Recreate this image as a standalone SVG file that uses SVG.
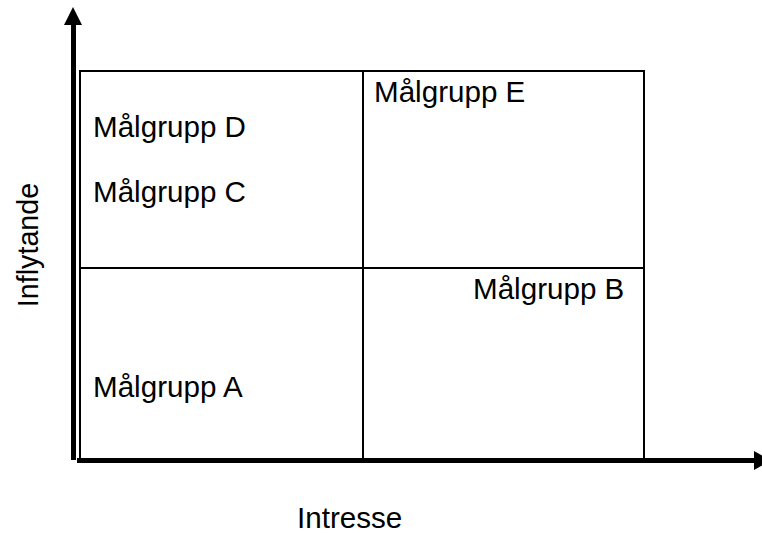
<svg xmlns="http://www.w3.org/2000/svg" width="762" height="533" viewBox="0 0 762 533">
<style>
.t{font-family:"Liberation Sans",Arial,sans-serif;font-size:29.6px;fill:#000}
.grid{fill:none;stroke:#000;stroke-width:2}
.axis{stroke:#000;stroke-width:5;fill:none}
</style>
<rect width="762" height="533" fill="#fff"/>
<g id="matrix">
<rect class="grid" x="80" y="71" width="564" height="389"/>
<line class="grid" x1="363" y1="71" x2="363" y2="460"/>
<line class="grid" x1="80" y1="268" x2="644" y2="268"/>
</g>
<g id="connectors">
<line class="axis" x1="73.5" y1="24" x2="73.5" y2="460"/>
<polygon points="64,25 73,7 82,25" fill="#000"/>
<line class="axis" x1="77" y1="460.5" x2="755" y2="460.5"/>
<polygon points="754,451 771,460.5 754,470" fill="#000"/>
</g>
<g id="node-D"><text class="t" x="93" y="137">Målgrupp D</text></g>
<g id="node-C"><text class="t" x="93" y="202">Målgrupp C</text></g>
<g id="node-E"><text class="t" x="374" y="102">Målgrupp E</text></g>
<g id="node-B"><text class="t" x="473" y="299">Målgrupp B</text></g>
<g id="node-A"><text class="t" x="93" y="397">Målgrupp A</text></g>
<g id="label-x"><text class="t" x="297" y="528">Intresse</text></g>
<g id="label-y"><text class="t" style="font-size:28.7px" transform="translate(38,245) rotate(-90)" text-anchor="middle">Inflytande</text></g>
</svg>
